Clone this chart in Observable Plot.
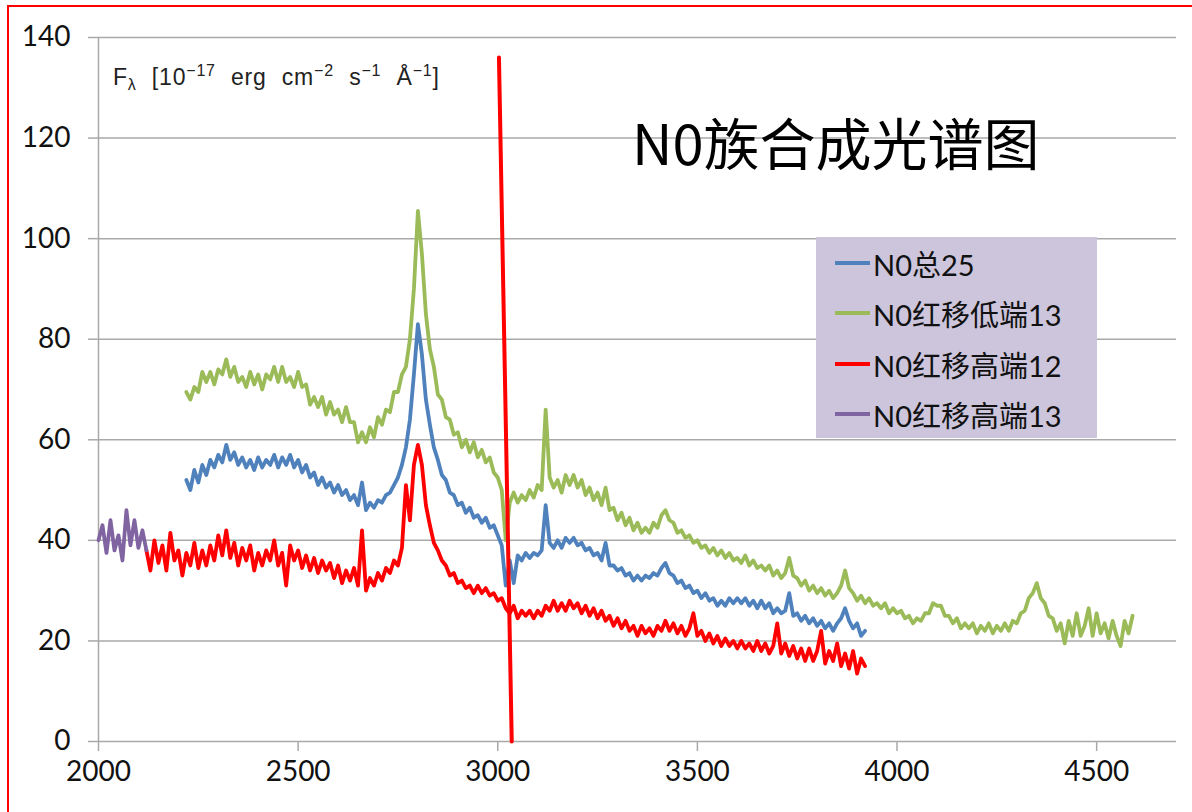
<!DOCTYPE html>
<html>
<head>
<meta charset="utf-8">
<script src="https://cdn.jsdelivr.net/npm/d3@7"></script>
<script src="https://cdn.jsdelivr.net/npm/@observablehq/plot@0.6"></script>
<style>
  body { margin: 0; background: #fff; }
  #wrap { position: relative; width: 1192px; height: 812px; overflow: hidden; background: #fff; }
  #frame { position: absolute; left: 7px; top: 5px; width: 1200px; height: 820px; border-top: 2px solid #ff0000; border-left: 2px solid #ff0000; pointer-events: none; }
  #title { position: absolute; left: 632px; top: 113px; font-family: "Noto Sans CJK SC", sans-serif; font-size: 56px; line-height: 56px; color: #000; white-space: nowrap; }
  #units { position: absolute; left: 113px; top: 57px; font-family: "Liberation Sans", Arial, sans-serif; font-size: 23px; line-height: 28px; color: #222; white-space: nowrap; letter-spacing: 0.8px; word-spacing: 8px; }
  #units sup { font-size: 16px; vertical-align: 9px; }
  #units sub { font-size: 16px; vertical-align: -5px; }
  #legend { position: absolute; left: 816px; top: 237px; width: 281px; height: 201px; background: #ccc5dc; }
  .item { position: absolute; left: 19px; height: 40px; display: flex; align-items: center; font-family: Lato, "Noto Sans CJK SC", sans-serif; font-size: 29px; color: #111; white-space: nowrap; }
  .sw { width: 35px; height: 4px; margin-right: 3px; }
</style>
</head>
<body>
<div id="wrap">
  <div id="chart"></div>
  <div id="units">F<sub>λ</sub> [10<sup>−17</sup> erg cm<sup>−2</sup> s<sup>−1</sup> Å<sup>−1</sup>]</div>
  <div id="title">N0族合成光谱图</div>
  <div id="legend"></div>
  <div id="frame"></div>
</div>
<script>
// ---- data ----
const seriesNames = ["N0总25", "N0红移低端13", "N0红移高端12", "N0红移高端13"];
const seriesColors = ["#4f81bd", "#9bbb59", "#ff0000", "#8064a2"];
const xTicks = [2000, 2500, 3000, 3500, 4000, 4500];
const yTicks = [0, 20, 40, 60, 80, 100, 120, 140];

// wavelength sampling (Å), 10 Å steps
const waveTotal25 = d3.range(2220, 3921, 10);
const waveLow13 = d3.range(2220, 4591, 10);
const waveHigh12 = d3.range(2120, 3921, 10);
const waveHigh13 = d3.range(2000, 2121, 10);

// N0总25 (blue), 2220–3920
const fluxTotal25 = [
  52, 50, 54, 51.5, 55, 53, 56, 54.5, 57, 55.5,
  59, 56, 57.5, 55, 56.5, 54.5, 56, 54, 56.5, 54.5,
  56, 55, 57, 54.5, 56.5, 55, 57, 54.5, 56, 53.5,
  55, 52.5, 53.5, 51, 52.5, 50.5, 51.5, 49.5, 51, 49,
  50, 48, 49, 47, 51.5, 46, 47.5, 46.5, 48, 47.5,
  49, 49.5, 51, 52.5, 55, 58.5, 64, 73, 83, 77,
  68, 63, 58.5, 56, 53, 52, 49.5, 49, 47, 47.5,
  45.5, 46.5, 44.5, 45, 43.5, 44.5, 42.5, 43, 41, 39,
  31, 36, 31.5, 37, 36, 37.5, 36.5, 37.5, 37, 38,
  47, 39.5, 38.5, 40, 38.5, 40.5, 39.5, 40.5, 39, 39.5,
  38, 38.5, 37, 37.5, 36, 39.5, 35, 35, 34, 34.5,
  33, 33.5, 32, 33, 32, 33, 32.5, 33.5, 33, 34.5,
  35.5, 33.5, 33, 31.5, 32, 30.5, 31, 29.5, 30, 28.5,
  29.5, 28, 28.5, 27, 28, 27, 28.5, 27.5, 28.5, 27.5,
  28.5, 27, 28, 26.5, 28, 26.5, 27.5, 25.5, 26.5, 25.5,
  26, 29.5, 25, 25.5, 24, 25, 23.5, 24.5, 23, 24,
  22.5, 23.5, 22, 23.5, 24.5, 26.5, 24, 22.5, 23.5, 21,
  22
];

// N0红移低端13 (green), 2220–4590
const fluxLow13 = [
  69.5, 68, 70.5, 69.5, 73.5, 71.5, 73.5, 71, 74, 73,
  76, 72.5, 74.5, 71.5, 72.5, 70.5, 73.5, 71, 73, 70,
  73, 72, 74.5, 71.5, 74.5, 71.5, 72.5, 70.5, 73.5, 70.5,
  71, 67, 68.5, 66.5, 68.5, 65, 67.5, 65, 66, 63.5,
  66.5, 63.5, 63.5, 59.5, 61.5, 59.5, 62.5, 60.5, 64.5, 63,
  66, 65.5, 69.5, 69.5, 73, 74.5, 80, 90, 105.5, 97,
  85, 78, 74.5, 69, 68, 64.5, 64, 61, 61.5, 58.5,
  60, 57.5, 59.5, 56.5, 58, 55.5, 56.5, 53.5, 52.5, 50,
  40, 47.5, 49.5, 47.5, 49, 48, 50, 48.5, 51, 50,
  66, 52.5, 50.5, 52, 49.5, 53, 51, 53, 50.5, 52,
  49, 50.5, 48, 49.5, 47, 50.5, 46, 46.5, 44, 45.5,
  43, 44.5, 42, 43.5, 41.5, 42.5, 41.5, 43.5, 42.5, 45,
  46, 44, 43.5, 41.5, 42, 40.5, 41, 39.5, 40, 38.5,
  39, 37.5, 38.5, 37, 38, 36.5, 37.5, 36, 36.5, 35.5,
  37, 35, 36, 34.5, 35, 34, 35, 33, 34, 32.5,
  33.5, 36.5, 33, 32.5, 31, 32, 30, 31, 29.5, 30.5,
  29, 30, 28.5, 29.5, 31, 34, 30.5, 29.5, 28, 29,
  27.5, 28.5, 27, 27.5, 26.5, 27.5, 25.5, 26.5, 25.5, 26,
  24.5, 25, 23.5, 24.5, 24, 25.5, 25.5, 27.5, 27, 27,
  25, 25, 23.5, 24.5, 22.5, 23.5, 22.5, 23.5, 21.5, 23,
  22, 23.5, 21.5, 23, 22, 23.5, 22, 24, 23.5, 25.5,
  26, 28.5, 29.5, 31.5, 28.5, 27.5, 25, 24.5, 22, 23.5,
  19.5, 24, 21, 25.5, 21, 23, 26.5, 21, 25.5, 21.5,
  23.5, 20.5, 24, 21, 19, 24, 21.5, 25
];

// N0红移高端12 (red), 2120–3920
const fluxHigh12 = [
  38, 34, 40, 35.5, 39, 34, 41.5, 36, 38, 33,
  37.5, 35, 39.5, 34.5, 38, 35, 39, 36, 41, 37,
  42, 36.5, 39.5, 35, 38.5, 36, 39, 34, 37.5, 35,
  38, 36, 40, 35, 37.5, 31, 39, 36, 38, 34.5,
  37, 34, 36.5, 33.5, 36, 34, 35.5, 32.5, 35, 31.5,
  34, 32, 34.5, 31, 42, 30, 32.5, 31, 33.5, 32,
  34.5, 33.5, 36, 35, 38.5, 51, 44, 55, 59, 55,
  47, 43, 39.5, 38, 36, 35, 33, 33.5, 31.5, 32,
  30.5, 31, 29.5, 31, 29.5, 30.5, 29, 29.5, 28, 28.5,
  26.5, 25.5, 27, 24.5, 26, 25, 26, 24.5, 26, 25,
  27, 26, 28, 26, 27.5, 26, 28, 26.5, 27.5, 25.5,
  27, 25, 26.5, 24.5, 26, 24, 25, 23, 24.5, 22.5,
  24, 22, 23, 21, 23, 21.5, 22.5, 21, 23, 22,
  24, 22, 23.5, 21.5, 23, 21, 22.5, 25.5, 21, 22,
  20, 21.5, 19.5, 21, 19, 20.5, 19, 20, 18.5, 20,
  18.5, 19.5, 18, 20, 18, 19.5, 17.5, 19, 23.5, 17.5,
  19.5, 17, 19, 16.5, 18.5, 16, 18.5, 16, 18, 22,
  15.5, 18, 16, 19.5, 15, 17.5, 14.5, 18, 13.5, 16.5,
  15
];

// N0红移高端13 (purple), 2000–2120
const fluxHigh13 = [40, 43, 37.5, 44, 38, 41, 36, 46, 39, 44, 38.5, 42, 38];

// hand-drawn red marker line (endpoints in data units)
const markerWave = [3003, 3035];
const markerFlux = [136, 0];

// ---- build ----
const toRows = (w, f) => f.map((v, i) => ({w: w[i], f: v}));
const seriesData = [
  toRows(waveTotal25, fluxTotal25),
  toRows(waveLow13, fluxLow13),
  toRows(waveHigh12, fluxHigh12),
  toRows(waveHigh13, fluxHigh13)
];
const marker = toRows(markerWave, markerFlux);

const grey = "#a9a9a9";
const chart = Plot.plot({
  width: 1192,
  height: 812,
  marginLeft: 98,
  marginRight: 16,
  marginTop: 37,
  marginBottom: 71,
  x: {domain: [2000, 4700]},
  y: {domain: [0, 140]},
  style: {fontFamily: "Lato, 'Noto Sans CJK SC', sans-serif", fontSize: "28px", color: "#111", background: "transparent"},
  marks: [
    Plot.gridY(yTicks, {stroke: grey, strokeOpacity: 1, strokeWidth: 1.5}),
    Plot.axisY(yTicks, {tickSize: 10, tickPadding: 18, stroke: grey, strokeWidth: 1.5, label: null, tickFormat: "d"}),
    Plot.axisX(xTicks, {tickSize: 10, tickPadding: 10, stroke: grey, strokeWidth: 1.5, label: null, tickFormat: "d"}),
    Plot.ruleX([2000], {stroke: grey, strokeWidth: 1.5}),
    ...seriesData.map((d, i) => Plot.line(d, {x: "w", y: "f", stroke: seriesColors[i], strokeWidth: 3.8, strokeLinejoin: "round"})),
    Plot.line(marker, {x: "w", y: "f", stroke: "#ff0000", strokeWidth: 4})
  ]
});
document.getElementById("chart").appendChild(chart);

// legend
const legend = document.getElementById("legend");
const rowCenters = [26, 76, 127, 177];
seriesNames.forEach((name, i) => {
  const item = document.createElement("div");
  item.className = "item";
  item.style.top = (rowCenters[i] - 20) + "px";
  const sw = document.createElement("span");
  sw.className = "sw";
  sw.style.background = seriesColors[i];
  const t = document.createElement("span");
  t.textContent = name;
  item.appendChild(sw);
  item.appendChild(t);
  legend.appendChild(item);
});
</script>
</body>
</html>
